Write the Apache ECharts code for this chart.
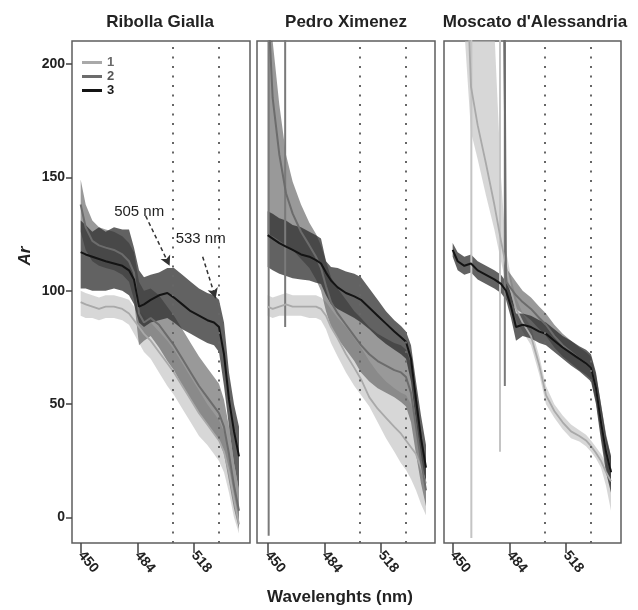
<!DOCTYPE html>
<html>
<head>
<meta charset="utf-8">
<script src="https://cdn.jsdelivr.net/npm/echarts@6/dist/echarts.min.js"></script>
<style>
  html, body { margin: 0; padding: 0; background: #fff; }
  #chart { width: 638px; height: 610px; }
</style>
</head>
<body>
<div id="chart"></div>
<script>
// Wavelength sampling (nm) shared by every curve
const wavelengths = [450,453,457,461,465,470,475,479,482,485,488,492,497,502,506,511,516,521,526,530,533,536,539,542,545];

const panelTitles = ['Ribolla Gialla', 'Pedro Ximenez', "Moscato d'Alessandria"];
const groupNames = ['1', '2', '3'];
const xTickValues = [450, 484, 518];
const yTickValues = [0, 50, 100, 150, 200];
const markerWavelengths = [505, 533];

// Ribolla Gialla: mean and confidence limits per group
const ribMean1 = [95,94,93,92,93,93,92,90,87,84,81,78,73,68,64,58,52,46,41,37,34,29,20,8,-3];
const ribHi1   = [100,99,98,97,98,98,97,96,93,91,89,86,82,78,74,68,62,56,50,46,43,38,29,16,4];
const ribLo1   = [89,88,88,87,88,88,87,85,81,77,73,70,64,58,54,48,42,36,32,28,25,20,11,0,-7];
const ribMean2 = [138,128,122,120,119,118,116,113,108,90,86,88,85,80,76,70,64,58,53,49,46,40,28,14,3];
const ribHi2   = [149,138,131,128,127,126,124,121,117,104,100,101,98,93,89,83,77,71,66,62,59,52,40,24,12];
const ribLo2   = [126,118,113,111,110,109,107,104,96,76,78,80,75,69,65,58,52,46,41,37,34,28,16,4,-5];
const ribMean3 = [117,116,115,114,113,112,111,109,105,93,94,96,98,99,97,94,91,89,87,86,84,72,52,38,27];
const ribHi3   = [131,129,126,128,126,128,127,127,119,109,106,107,108,110,110,107,104,101,99,98,96,86,64,50,40];
const ribLo3   = [101,101,100,100,100,101,100,98,94,86,84,86,87,88,86,83,81,79,77,76,73,58,40,24,12];

// Pedro Ximenez
const pedMean1 = [93,92,93,94,93,93,93,93,92,89,84,79,72,66,61,53,48,44,40,37,34,31,28,22,15];
const pedHi1   = [98,97,98,99,98,98,98,98,97,95,92,88,84,79,75,69,64,60,57,55,54,50,43,35,27];
const pedLo1   = [89,88,89,89,89,89,88,88,87,83,77,71,64,58,54,49,42,35,29,24,21,17,12,6,1];
const pedMean2 = [230,185,160,143,134,126,120,115,110,102,95,90,85,80,76,72,69,67,65,64,62,55,40,25,12];
const pedHi2   = [400,210,182,160,148,138,130,125,120,113,106,101,96,91,88,84,81,79,77,76,74,68,55,38,22];
const pedLo2   = [125,124,122,120,118,114,110,105,100,91,84,79,74,69,64,60,57,55,53,51,49,42,28,15,5];
const pedMean3 = [124.5,123,121,119.5,118,116,115,113.5,112,108,104.5,101.5,99,97.5,96,92.5,89,85.5,82,79.5,77.5,70,52,35,22];
const pedHi3   = [135,134,132,131,129,128,126,124.5,123,113,110.5,110,108.5,107.5,106,101,96,91,87,84.5,82,76,60,45,32];
const pedLo3   = [110.5,109,107.5,106.5,105.5,105,104.5,103.5,103,98,94,92,90,88,86,83,79.5,76.5,74,72,70,60,42,25,12];

// Moscato d'Alessandria
const mosMean1 = [600,420,270,190,173,156,138,122,111,100,92,86,80,67,54,47,42,38,36,34,31.5,28.5,25,20,16];
const mosHi1   = [900,700,500,380,300,250,215,150,118,106,97,90,84,71,58,50,45,41,38.5,36.5,34,31,28,24,19];
const mosLo1   = [320,270,215,170,158,142,127,113,103,94,87,82,76,63,50,44,39,35,33.5,31.5,29,26,22,14,3];
const mosMean2 = [900,850,800,700,650,600,550,480,104,101,98,95,92,88,85,80,76,73,70,68,66,57,43,30,20];
const mosHi2   = [1200,1150,1100,1000,950,900,850,700,110,107,104,100,97,93,90,85,81,78,75,73,71,63,50,37,27];
const mosLo2   = [600,580,560,520,480,440,400,300,98,95,92,90,87,83,80,75,71,68,65,63,61,51,36,23,13];
const mosMean3 = [118,113,111,112,109,107,105,103,100,93,84,85,84,82,81,78,75,72.5,70,68,66,57,42,29,20];
const mosHi3   = [121,117,115,116,113,111,109,107,104,99,90,90,89,87,86,83,80,78,75.5,74,72,64,50,36,27];
const mosLo3   = [115,109,107,108,105,103,101,99,96,88,78,80,79,77,76,73,70,67,64.5,62,60,50,34,20,11];

// Isolated spikes (wavelength, lowest value reached, group index)
const pedSpikeNm = [450.6, 460.5];
const pedSpikeLow = [-8, 84];
const pedSpikeGroup = [1, 1];
const mosSpikeNm = [461.2, 478.4, 481.3];
const mosSpikeLow = [-9, 29, 58];
const mosSpikeGroup = [0, 0, 1];

// Annotation arrows in the first panel
const arrowStart = [[489, 133], [523.2, 115]];
const arrowEnd = [[503.4, 111], [531, 96.7]];
const noteText = ['505 nm', '533 nm'];
const notePos = [[485.1, 134.7], [522, 122.8]];

// ---- styling ----
const FONT = '"Liberation Sans", Arial, sans-serif';
const lineColors = ['#a9a9a9', '#6c6c6c', '#141414'];
const bandColors = ['#bdbdbd', '#5a5a5a', '#2e2e2e'];
const bandOpacity = [0.6, 0.62, 0.75];
const legendTextColors = ['#6a6a6a', '#555', '#1a1a1a'];

const panels = [
  { left: 72,  width: 178, xMin: 444.8, xMax: 551.6,
    mean: [ribMean1, ribMean2, ribMean3], hi: [ribHi1, ribHi2, ribHi3], lo: [ribLo1, ribLo2, ribLo3],
    spikes: null },
  { left: 257, width: 178, xMin: 443.6, xMax: 550.4,
    mean: [pedMean1, pedMean2, pedMean3], hi: [pedHi1, pedHi2, pedHi3], lo: [pedLo1, pedLo2, pedLo3],
    spikes: { nm: pedSpikeNm, low: pedSpikeLow, group: pedSpikeGroup } },
  { left: 444, width: 177, xMin: 444.8, xMax: 551.0,
    mean: [mosMean1, mosMean2, mosMean3], hi: [mosHi1, mosHi2, mosHi3], lo: [mosLo1, mosLo2, mosLo3],
    spikes: { nm: mosSpikeNm, low: mosSpikeLow, group: mosSpikeGroup } }
];

const Y_MIN = -11.2, Y_MAX = 210.1;
const GRID_TOP = 41, GRID_H = 502;

// Confidence band drawn as one polygon (upper limit out, lower limit back)
function bandSeries(i, hi, lo, color, opacity) {
  return {
    type: 'custom', xAxisIndex: i, yAxisIndex: i, silent: true, z: 2,
    data: [[wavelengths[0], lo[0]]],
    renderItem: function (params, api) {
      const pts = [];
      for (let k = 0; k < wavelengths.length; k++) pts.push(api.coord([wavelengths[k], hi[k]]));
      for (let k = wavelengths.length - 1; k >= 0; k--) pts.push(api.coord([wavelengths[k], lo[k]]));
      const cs = params.coordSys;
      return {
        type: 'polygon',
        shape: { points: pts },
        style: { fill: color, opacity: opacity },
        clipPath: { type: 'rect', shape: { x: cs.x, y: cs.y, width: cs.width, height: cs.height } }
      };
    }
  };
}

const grids = [], xAxes = [], yAxes = [], series = [];

panels.forEach((p, i) => {
  grids.push({
    left: p.left, top: GRID_TOP, width: p.width, height: GRID_H,
    show: true, borderColor: '#5e5e5e', borderWidth: 1.5, backgroundColor: '#fff',
    outerBoundsMode: 'none'
  });
  xAxes.push({
    type: 'value', gridIndex: i, min: p.xMin, max: p.xMax,
    axisLine: { show: false, onZero: false }, splitLine: { show: false },
    axisTick: { show: true, customValues: xTickValues, length: 10, lineStyle: { color: '#444', width: 1.5 } },
    axisLabel: { customValues: xTickValues, rotate: -50, margin: 10, fontSize: 14, fontWeight: 'bold',
                 color: '#222', fontFamily: FONT },
    name: i === 1 ? 'Wavelenghts (nm)' : '',
    nameLocation: 'middle', nameGap: 46,
    nameTextStyle: { fontSize: 17, fontWeight: 'bold', color: '#222', fontFamily: FONT, padding: [0, 12, 0, 0] }
  });
  yAxes.push({
    type: 'value', gridIndex: i, min: Y_MIN, max: Y_MAX,
    axisLine: { show: false, onZero: false }, splitLine: { show: false },
    axisTick: { show: i === 0, customValues: yTickValues, length: 6, lineStyle: { color: '#444', width: 1.5 } },
    axisLabel: { show: i === 0, customValues: yTickValues, margin: 7, fontSize: 14, fontWeight: 'bold',
                 color: '#222', fontFamily: FONT }
  });

  for (let g = 0; g < 3; g++) {
    series.push(bandSeries(i, p.hi[g], p.lo[g], bandColors[g], bandOpacity[g]));
  }

  if (p.spikes) {
    p.spikes.nm.forEach((nm, s) => {
      const g = p.spikes.group[s];
      series.push({
        type: 'line', xAxisIndex: i, yAxisIndex: i, silent: true, symbol: 'none', z: 3,
        lineStyle: { color: g === 0 ? '#c4c4c4' : '#7a7a7a', width: 2 },
        data: [[nm, p.spikes.low[s]], [nm, 1000]]
      });
    });
  }

  for (let g = 0; g < 3; g++) {
    const s = {
      type: 'line', xAxisIndex: i, yAxisIndex: i,
      name: i === 0 ? groupNames[g] : 'p' + i + '-' + groupNames[g],
      symbol: 'none', color: lineColors[g],
      lineStyle: { color: lineColors[g], width: g === 0 ? 1.8 : 2 },
      data: wavelengths.map((w, k) => [w, p.mean[g][k]]),
      z: 3
    };
    if (g === 2) {
      const mlData = markerWavelengths.map(v => ({ xAxis: v }));
      if (i === 0) {
        arrowStart.forEach((st, a) => {
          mlData.push([
            { coord: st, symbol: 'none',
              lineStyle: { color: '#333', width: 1.5, type: [4, 3] } },
            { coord: arrowEnd[a], symbol: 'arrow', symbolSize: [8, 10],
              lineStyle: { color: '#333', width: 1.5, type: [4, 3] } }
          ]);
        });
        s.markPoint = {
          silent: true,
          symbol: 'rect', symbolSize: 1, itemStyle: { color: 'rgba(0,0,0,0)' },
          label: { show: true, position: 'inside', color: '#222', fontSize: 15, fontFamily: FONT },
          data: notePos.map((pos, n) => ({ coord: pos, value: noteText[n],
                                           label: { formatter: noteText[n] } }))
        };
      }
      s.markLine = {
        silent: true, symbol: 'none', animation: false,
        label: { show: false },
        lineStyle: { color: '#666', width: 2, type: [2, 7.5] },
        data: mlData
      };
    }
    series.push(s);
  }
});

const chart = echarts.init(document.getElementById('chart'), null, { renderer: 'canvas' });
chart.setOption({
  animation: false,
  backgroundColor: '#fff',
  grid: grids,
  xAxis: xAxes,
  yAxis: yAxes,
  legend: {
    orient: 'vertical', left: 77, top: 51,
    icon: 'rect', itemWidth: 20, itemHeight: 3, itemGap: 1,
    selectedMode: false,
    textStyle: { fontSize: 13, fontWeight: 'bold', fontFamily: FONT },
    data: groupNames.map((n, g) => ({ name: n, textStyle: { color: legendTextColors[g] } }))
  },
  graphic: [
    ...panelTitles.map((t, i) => ({
      type: 'text', x: [160, 346, 535][i], y: 22, silent: true,
      style: { text: t, textAlign: 'center', textVerticalAlign: 'middle',
               font: 'bold 17px ' + FONT, fill: '#222' }
    })),
    { type: 'text', x: 25, y: 256, rotation: Math.PI / 2, silent: true,
      style: { text: 'Ar', textAlign: 'center', textVerticalAlign: 'middle',
               font: 'italic bold 17px ' + FONT, fill: '#222' } }
  ],
  series: series
});
</script>
</body>
</html>
